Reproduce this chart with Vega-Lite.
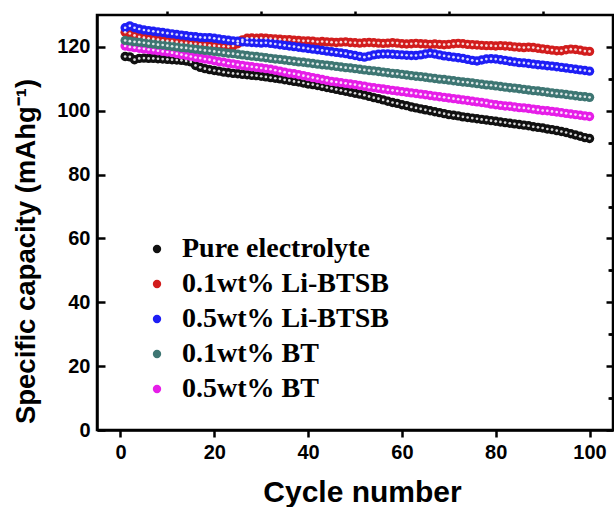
{
  "$schema": "https://vega.github.io/schema/vega-lite/v6.json",
  "width": 516,
  "height": 415,
  "autosize": "none",
  "padding": {"left": 97, "top": 15, "right": 1, "bottom": 77},
  "background": "white",
  "config": {
    "view": {"stroke": "#000000", "strokeWidth": 2.5},
    "axis": {
      "labelFont": "Liberation Sans",
      "labelFontWeight": "bold",
      "labelFontSize": 20,
      "labelColor": "#000000",
      "titleFont": "Liberation Sans",
      "titleFontWeight": "bold",
      "titleFontSize": 27.5,
      "titleColor": "#000000",
      "tickColor": "#000000",
      "domainColor": "#000000",
      "domainWidth": 2.5,
      "tickWidth": 2.5,
      "grid": false
    }
  },
  "data": {
    "values": [
      {"n":1,"a":117.0,"b":124.6,"c":120.3,"d":126.0,"e":122.0},
      {"n":2,"a":116.9,"b":124.2,"c":120.0,"d":126.6,"e":121.8},
      {"n":3,"a":116.0,"b":123.6,"c":119.8,"d":126.0,"e":121.6},
      {"n":4,"a":116.4,"b":123.2,"c":119.6,"d":125.6,"e":121.5},
      {"n":5,"a":116.5,"b":122.9,"c":119.4,"d":125.3,"e":121.3},
      {"n":6,"a":116.4,"b":122.7,"c":119.2,"d":125.1,"e":121.1},
      {"n":7,"a":116.4,"b":122.5,"c":119.0,"d":124.9,"e":120.9},
      {"n":8,"a":116.3,"b":122.3,"c":118.8,"d":124.7,"e":120.7},
      {"n":9,"a":116.2,"b":122.1,"c":118.6,"d":124.5,"e":120.6},
      {"n":10,"a":116.1,"b":121.9,"c":118.4,"d":124.3,"e":120.4},
      {"n":11,"a":116.0,"b":121.8,"c":118.2,"d":124.1,"e":120.2},
      {"n":12,"a":115.9,"b":121.6,"c":117.9,"d":123.9,"e":120.0},
      {"n":13,"a":115.8,"b":121.4,"c":117.6,"d":123.7,"e":119.8},
      {"n":14,"a":115.6,"b":121.3,"c":117.3,"d":123.5,"e":119.7},
      {"n":15,"a":115.3,"b":121.1,"c":117.0,"d":123.3,"e":119.5},
      {"n":16,"a":114.2,"b":121.0,"c":116.7,"d":123.2,"e":119.3},
      {"n":17,"a":113.6,"b":120.8,"c":116.5,"d":123.0,"e":119.1},
      {"n":18,"a":113.2,"b":120.7,"c":116.2,"d":122.9,"e":118.9},
      {"n":19,"a":112.9,"b":120.5,"c":116.0,"d":122.9,"e":118.8},
      {"n":20,"a":112.6,"b":120.4,"c":115.7,"d":122.7,"e":118.6},
      {"n":21,"a":112.4,"b":120.3,"c":115.4,"d":122.5,"e":118.4},
      {"n":22,"a":112.1,"b":120.2,"c":115.2,"d":122.3,"e":118.2},
      {"n":23,"a":111.9,"b":120.1,"c":114.9,"d":122.1,"e":118.0},
      {"n":24,"a":111.7,"b":120.3,"c":114.7,"d":121.9,"e":117.9},
      {"n":25,"a":111.6,"b":121.0,"c":114.4,"d":121.8,"e":117.7},
      {"n":26,"a":111.4,"b":122.2,"c":114.2,"d":121.6,"e":117.5},
      {"n":27,"a":111.3,"b":122.7,"c":114.0,"d":121.5,"e":117.3},
      {"n":28,"a":111.1,"b":122.8,"c":113.8,"d":121.4,"e":117.1},
      {"n":29,"a":111.0,"b":122.7,"c":113.6,"d":121.3,"e":117.0},
      {"n":30,"a":110.8,"b":122.8,"c":113.4,"d":121.2,"e":116.8},
      {"n":31,"a":110.6,"b":122.7,"c":113.2,"d":121.3,"e":116.6},
      {"n":32,"a":110.4,"b":122.6,"c":113.0,"d":121.1,"e":116.4},
      {"n":33,"a":110.2,"b":122.5,"c":112.7,"d":120.9,"e":116.2},
      {"n":34,"a":110.0,"b":122.4,"c":112.4,"d":120.7,"e":116.1},
      {"n":35,"a":109.7,"b":122.3,"c":112.1,"d":120.5,"e":115.9},
      {"n":36,"a":109.5,"b":122.3,"c":111.8,"d":120.3,"e":115.7},
      {"n":37,"a":109.2,"b":122.1,"c":111.6,"d":120.1,"e":115.5},
      {"n":38,"a":109.0,"b":122.0,"c":111.3,"d":119.9,"e":115.3},
      {"n":39,"a":108.7,"b":121.9,"c":111.0,"d":119.7,"e":115.2},
      {"n":40,"a":108.4,"b":121.9,"c":110.7,"d":119.5,"e":115.0},
      {"n":41,"a":108.2,"b":121.8,"c":110.4,"d":119.3,"e":114.8},
      {"n":42,"a":107.9,"b":121.6,"c":110.1,"d":119.1,"e":114.6},
      {"n":43,"a":107.6,"b":121.7,"c":109.8,"d":118.9,"e":114.4},
      {"n":44,"a":107.3,"b":121.6,"c":109.5,"d":118.7,"e":114.3},
      {"n":45,"a":107.0,"b":121.5,"c":109.2,"d":118.5,"e":114.1},
      {"n":46,"a":106.7,"b":121.4,"c":109.0,"d":118.3,"e":113.9},
      {"n":47,"a":106.4,"b":121.5,"c":108.8,"d":118.1,"e":113.7},
      {"n":48,"a":106.1,"b":121.6,"c":108.6,"d":117.9,"e":113.5},
      {"n":49,"a":105.8,"b":121.4,"c":108.4,"d":117.6,"e":113.4},
      {"n":50,"a":105.5,"b":121.3,"c":108.2,"d":117.3,"e":113.2},
      {"n":51,"a":105.2,"b":121.2,"c":107.9,"d":117.0,"e":113.0},
      {"n":52,"a":104.9,"b":121.3,"c":107.7,"d":116.8,"e":112.8},
      {"n":53,"a":104.5,"b":121.4,"c":107.4,"d":117.1,"e":112.6},
      {"n":54,"a":104.1,"b":121.3,"c":107.2,"d":117.5,"e":112.5},
      {"n":55,"a":103.8,"b":121.2,"c":107.0,"d":117.7,"e":112.3},
      {"n":56,"a":103.4,"b":121.1,"c":106.8,"d":117.8,"e":112.1},
      {"n":57,"a":103.0,"b":121.2,"c":106.6,"d":117.8,"e":111.9},
      {"n":58,"a":102.6,"b":121.3,"c":106.4,"d":117.7,"e":111.7},
      {"n":59,"a":102.3,"b":121.2,"c":106.2,"d":117.6,"e":111.6},
      {"n":60,"a":101.9,"b":121.0,"c":106.0,"d":117.5,"e":111.4},
      {"n":61,"a":101.6,"b":120.9,"c":105.8,"d":117.4,"e":111.2},
      {"n":62,"a":101.2,"b":121.0,"c":105.6,"d":117.3,"e":111.0},
      {"n":63,"a":100.9,"b":121.1,"c":105.4,"d":117.3,"e":110.8},
      {"n":64,"a":100.6,"b":121.0,"c":105.2,"d":117.5,"e":110.7},
      {"n":65,"a":100.3,"b":120.9,"c":105.0,"d":117.8,"e":110.5},
      {"n":66,"a":100.0,"b":120.8,"c":104.8,"d":118.0,"e":110.3},
      {"n":67,"a":99.7,"b":120.9,"c":104.6,"d":117.8,"e":110.1},
      {"n":68,"a":99.4,"b":120.8,"c":104.4,"d":117.5,"e":109.9},
      {"n":69,"a":99.1,"b":120.7,"c":104.2,"d":117.2,"e":109.8},
      {"n":70,"a":98.8,"b":120.8,"c":104.0,"d":117.0,"e":109.6},
      {"n":71,"a":98.6,"b":121.0,"c":103.8,"d":116.8,"e":109.4},
      {"n":72,"a":98.4,"b":121.1,"c":103.6,"d":116.6,"e":109.2},
      {"n":73,"a":98.1,"b":121.0,"c":103.4,"d":116.4,"e":109.0},
      {"n":74,"a":97.9,"b":120.8,"c":103.2,"d":116.1,"e":108.9},
      {"n":75,"a":97.7,"b":120.7,"c":103.0,"d":115.8,"e":108.7},
      {"n":76,"a":97.5,"b":120.6,"c":102.8,"d":115.6,"e":108.5},
      {"n":77,"a":97.3,"b":120.5,"c":102.6,"d":115.9,"e":108.3},
      {"n":78,"a":97.1,"b":120.4,"c":102.4,"d":116.2,"e":108.1},
      {"n":79,"a":96.9,"b":120.4,"c":102.1,"d":116.3,"e":108.0},
      {"n":80,"a":96.7,"b":120.3,"c":101.9,"d":116.2,"e":107.8},
      {"n":81,"a":96.5,"b":120.4,"c":101.7,"d":116.0,"e":107.6},
      {"n":82,"a":96.3,"b":120.3,"c":101.5,"d":115.8,"e":107.4},
      {"n":83,"a":96.1,"b":120.2,"c":101.4,"d":115.5,"e":107.2},
      {"n":84,"a":95.9,"b":120.0,"c":101.2,"d":115.3,"e":107.1},
      {"n":85,"a":95.7,"b":119.9,"c":101.0,"d":115.1,"e":106.9},
      {"n":86,"a":95.5,"b":119.8,"c":100.9,"d":115.0,"e":106.7},
      {"n":87,"a":95.3,"b":119.9,"c":100.7,"d":114.8,"e":106.5},
      {"n":88,"a":95.0,"b":119.8,"c":100.5,"d":114.6,"e":106.3},
      {"n":89,"a":94.8,"b":119.6,"c":100.3,"d":114.4,"e":106.2},
      {"n":90,"a":94.6,"b":119.4,"c":100.1,"d":114.3,"e":106.0},
      {"n":91,"a":94.3,"b":119.2,"c":100.0,"d":114.1,"e":105.8},
      {"n":92,"a":94.1,"b":119.0,"c":99.8,"d":114.0,"e":105.6},
      {"n":93,"a":93.8,"b":118.8,"c":99.6,"d":113.8,"e":105.4},
      {"n":94,"a":93.5,"b":118.8,"c":99.4,"d":113.6,"e":105.3},
      {"n":95,"a":93.2,"b":119.1,"c":99.2,"d":113.4,"e":105.1},
      {"n":96,"a":92.8,"b":119.3,"c":99.0,"d":113.2,"e":104.9},
      {"n":97,"a":92.4,"b":119.2,"c":98.8,"d":113.0,"e":104.7},
      {"n":98,"a":92.0,"b":119.0,"c":98.6,"d":112.8,"e":104.5},
      {"n":99,"a":91.6,"b":118.7,"c":98.4,"d":112.6,"e":104.4},
      {"n":100,"a":91.3,"b":118.6,"c":98.2,"d":112.4,"e":104.2}
    ]
  },
  "transform": [{"fold": ["a", "b", "c", "d", "e"], "as": ["key", "value"]}],
  "layer": [
    {
      "mark": {"type": "point", "filled": true, "size": 88, "opacity": 1},
      "encoding": {
        "x": {
          "field": "n", "type": "quantitative",
          "scale": {"domain": [-5, 105], "nice": false, "zero": false},
          "axis": {"values": [0, 20, 40, 60, 80, 100], "tickSize": 7, "labelPadding": 5, "title": "Cycle number", "titleFontSize": 30, "titlePadding": 15, "titleX": 265}
        },
        "y": {
          "field": "value", "type": "quantitative",
          "scale": {"domain": [0, 130], "nice": false, "zero": true},
          "axis": {"values": [0, 20, 40, 60, 80, 100, 120], "tickSize": -8, "labelPadding": 15, "title": "Specific capacity (mAhg⁻¹)", "titlePadding": 16, "titleY": 236}
        },
        "color": {
          "field": "key", "type": "nominal",
          "scale": {"domain": ["a", "b", "d", "e", "c"], "range": ["#111111", "#d21d1d", "#1e1ef5", "#3e7673", "#e61ee8"]},
          "legend": {
            "orient": "none", "legendX": 46, "legendY": 220, "title": null, "padding": 0,
            "labelFont": "Liberation Serif", "labelFontWeight": "bold", "labelFontSize": 28, "labelColor": "#000000",
            "labelLimit": 400, "labelOffset": 11, "symbolSize": 70, "symbolType": "circle", "rowPadding": 7,
            "labelExpr": "datum.label == 'a' ? 'Pure electrolyte' : datum.label == 'b' ? '0.1wt% Li-BTSB' : datum.label == 'd' ? '0.5wt% Li-BTSB' : datum.label == 'e' ? '0.1wt% BT' : '0.5wt% BT'"
          }
        },
        "order": {"field": "key", "type": "ordinal"}
      }
    },
    {
      "mark": {"type": "point", "filled": true, "color": "#ffffff", "size": 7, "opacity": 0.85},
      "encoding": {
        "x": {
          "field": "n", "type": "quantitative",
          "axis": {"values": [10, 30, 50, 70, 90], "tickSize": 4, "labels": false, "domain": false, "title": null}
        },
        "y": {
          "field": "value", "type": "quantitative",
          "axis": {"values": [10, 30, 50, 70, 90, 110], "tickSize": -5, "labels": false, "domain": false, "title": null}
        },
        "order": {"field": "key", "type": "ordinal"}
      }
    },
    {
      "mark": {"type": "point", "opacity": 0},
      "encoding": {
        "x": {"field": "n", "type": "quantitative", "axis": null},
        "y": {
          "field": "value", "type": "quantitative",
          "axis": {"orient": "right", "values": [0, 20, 40, 60, 80, 100, 120], "tickSize": -7, "labels": false, "domain": false, "title": null}
        }
      }
    },
    {
      "mark": {"type": "point", "opacity": 0},
      "encoding": {
        "x": {"field": "n", "type": "quantitative", "axis": null},
        "y": {
          "field": "value", "type": "quantitative",
          "axis": {"orient": "right", "values": [10, 30, 50, 70, 90, 110], "tickSize": -4, "labels": false, "domain": false, "title": null}
        }
      }
    }
  ],
  "resolve": {"axis": {"x": "independent", "y": "independent"}}
}
